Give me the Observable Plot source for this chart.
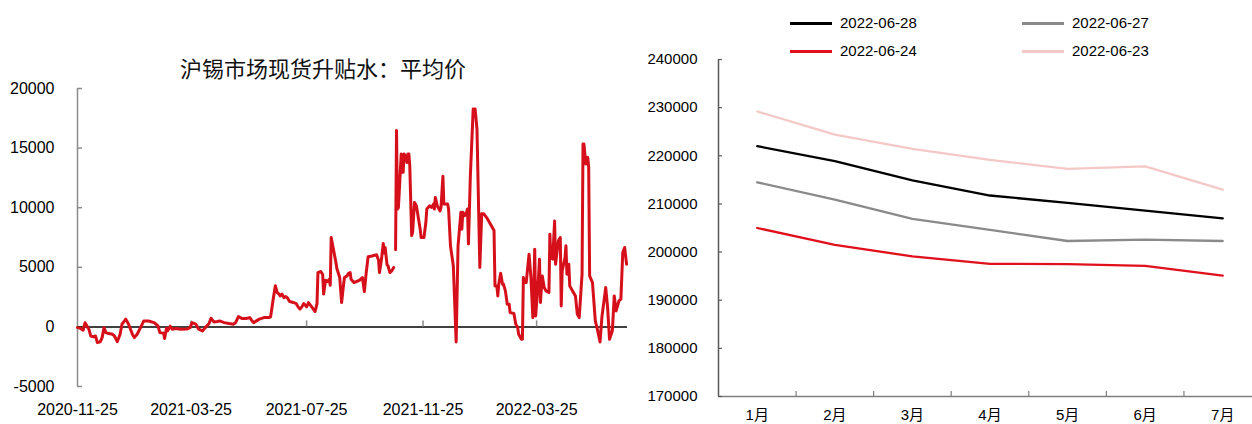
<!DOCTYPE html>
<html><head><meta charset="utf-8">
<script src="https://cdn.jsdelivr.net/npm/d3@7"></script>
<script src="https://cdn.jsdelivr.net/npm/@observablehq/plot@0.6"></script>
<style>
html,body{margin:0;padding:0;background:#fff;}
#wrap{position:relative;width:1252px;height:424px;overflow:hidden;display:flex;font-family:"Liberation Sans","Noto Sans CJK SC",sans-serif;color:#000;}
#left{position:relative;width:640px;height:424px;flex:none;}
#right{position:relative;width:612px;height:424px;flex:none;overflow:visible;}
#left svg,#right svg{position:absolute;left:0;top:0;max-width:none !important;}
.title{position:absolute;left:0;width:646px;top:56px;line-height:22px;text-align:center;font-size:22px;font-family:"Noto Sans CJK SC",sans-serif;color:#111;z-index:2;}
.lg{position:absolute;height:20px;line-height:20px;font-size:15px;white-space:nowrap;z-index:2;}
.sw{display:inline-block;width:42px;height:3px;vertical-align:middle;margin-right:8px;position:relative;top:-1px;}
</style>
</head><body>
<div id="wrap">
  <div id="left"><div class="title">沪锡市场现货升贴水：平均价</div></div>
  <div id="right"></div>
</div>
<script>
// ---------- Left chart data ----------
const leftTitle = "沪锡市场现货升贴水：平均价";
const dates = [
"2020-11-25","2020-11-28","2020-12-01","2020-12-03","2020-12-07","2020-12-09","2020-12-12","2020-12-14","2020-12-16","2020-12-19",
"2020-12-21","2020-12-23","2020-12-25","2020-12-28","2021-01-01","2021-01-03","2021-01-06","2021-01-09","2021-01-11","2021-01-15",
"2021-01-18","2021-01-22","2021-01-24","2021-01-27","2021-01-31","2021-02-03","2021-02-08","2021-02-14","2021-02-18","2021-02-20",
"2021-02-24","2021-02-25","2021-02-27","2021-02-28","2021-03-03","2021-03-05","2021-03-09","2021-03-14","2021-03-21","2021-03-24",
"2021-03-26","2021-03-30","2021-04-02","2021-04-06","2021-04-09","2021-04-13","2021-04-15","2021-04-18","2021-04-22","2021-04-24",
"2021-04-29","2021-05-04","2021-05-09","2021-05-11","2021-05-14","2021-05-18","2021-05-22","2021-05-26","2021-05-29","2021-05-30",
"2021-06-05","2021-06-10","2021-06-15","2021-06-17","2021-06-20","2021-06-22","2021-06-24","2021-06-26","2021-06-27","2021-06-29",
"2021-07-01","2021-07-03","2021-07-05","2021-07-07","2021-07-11","2021-07-14","2021-07-16","2021-07-18","2021-07-20","2021-07-22",
"2021-07-25","2021-07-27","2021-07-31","2021-08-03","2021-08-05","2021-08-06","2021-08-09","2021-08-11","2021-08-12","2021-08-14",
"2021-08-16","2021-08-18","2021-08-19","2021-08-20","2021-08-22","2021-08-25","2021-08-26","2021-08-29","2021-08-31","2021-09-02",
"2021-09-03","2021-09-06","2021-09-07","2021-09-09","2021-09-10","2021-09-13","2021-09-17","2021-09-19","2021-09-22","2021-09-24",
"2021-09-26","2021-09-28","2021-10-02","2021-10-07","2021-10-09","2021-10-10","2021-10-12","2021-10-14","2021-10-15","2021-10-16",
"2021-10-18","2021-10-19","2021-10-21","2021-10-23","2021-10-25","2021-10-26","2021-10-27","2021-10-28","2021-10-29","2021-10-30",
"2021-11-02","2021-11-03","2021-11-04","2021-11-05","2021-11-07","2021-11-08","2021-11-09","2021-11-10","2021-11-11","2021-11-13",
"2021-11-14","2021-11-16","2021-11-18","2021-11-20","2021-11-22","2021-11-23","2021-11-26","2021-11-28","2021-11-29","2021-12-02",
"2021-12-04","2021-12-06","2021-12-07","2021-12-08","2021-12-10","2021-12-13","2021-12-14","2021-12-16","2021-12-17","2021-12-21",
"2021-12-22","2021-12-24","2021-12-27","2021-12-30","2022-01-01","2022-01-04","2022-01-05","2022-01-06","2022-01-08","2022-01-10",
"2022-01-11","2022-01-12","2022-01-14","2022-01-17","2022-01-19","2022-01-21","2022-01-24","2022-01-26","2022-01-28","2022-02-01",
"2022-02-08","2022-02-09","2022-02-11","2022-02-12","2022-02-13","2022-02-15","2022-02-17","2022-02-18","2022-02-20","2022-02-22",
"2022-02-24","2022-02-25","2022-03-01","2022-03-03","2022-03-05","2022-03-06","2022-03-09","2022-03-10","2022-03-11","2022-03-12",
"2022-03-14","2022-03-17","2022-03-19","2022-03-21","2022-03-22","2022-03-23","2022-03-24","2022-03-26","2022-03-27","2022-03-28",
"2022-03-29","2022-03-31","2022-04-02","2022-04-04","2022-04-07","2022-04-08","2022-04-09","2022-04-11","2022-04-13","2022-04-14",
"2022-04-17","2022-04-19","2022-04-20","2022-04-21","2022-04-24","2022-04-25","2022-04-26","2022-04-28","2022-04-29","2022-05-02",
"2022-05-05","2022-05-07","2022-05-09","2022-05-12","2022-05-13","2022-05-14","2022-05-16","2022-05-18","2022-05-19","2022-05-20",
"2022-05-23","2022-05-26","2022-05-28","2022-05-31","2022-06-02","2022-06-06","2022-06-08","2022-06-10","2022-06-13","2022-06-15",
"2022-06-17","2022-06-20","2022-06-22","2022-06-24","2022-06-26","2022-06-28"
];
const values = [
-60,-110,-280,350,-190,-760,-840,-760,-1320,-1260,
-900,-60,-480,-560,-620,-760,-1240,-620,230,650,
230,-620,-900,-620,0,500,500,360,80,-480,
-530,-980,-110,-340,60,-190,-140,-190,-170,-60,
360,230,-190,-340,-60,280,730,420,450,500,
360,280,230,360,870,700,700,780,450,360,
650,780,780,850,2460,3450,2880,2750,2600,2750,
2460,2550,2410,2130,2050,1960,1680,1490,1680,1960,
1680,2040,1620,1290,1960,4560,4650,4400,2750,3920,
3800,4000,3500,7500,6660,5400,4900,4140,2040,3500,
4140,4300,4480,4560,4000,3720,3850,3920,4140,2970,
4560,5880,5950,6050,5600,4560,5600,7000,6200,6660,
5200,5130,4560,4700,4980,null,6470,16470,9890,10000,
14510,12970,12970,14510,14230,13800,14510,14510,13530,7650,
7930,10440,10160,9180,8200,7500,7500,8760,9890,10160,
10020,10300,9890,10860,10160,9730,10020,12630,10300,10300,
9890,6800,5130,-1260,6800,9610,8200,9610,9330,9610,
9890,6950,12690,18290,18290,16600,4980,9500,9500,9080,
8090,3440,3440,2600,3580,4500,3580,3580,3020,1900,
1900,1200,1120,220,-60,-620,-1040,-1040,4140,3720,
3720,6100,4140,780,3160,6520,920,3160,4140,5680,
2040,4280,3300,3020,2880,7780,5820,5680,8880,5260,
7220,7500,1760,4700,5820,6800,4420,5260,3440,3020,
2600,1060,780,4420,15340,15340,13660,14220,13380,4280,
3720,500,-140,-1260,840,3300,1620,-1040,-330,2600,
1340,2180,2320,6240,6660,5260
];
const leftXTickLabels = ["2020-11-25","2021-03-25","2021-07-25","2021-11-25","2022-03-25"];
const leftXDomain = ["2020-11-25","2022-06-29"];
const leftYTicks = [-5000, 0, 5000, 10000, 15000, 20000];

// ---------- Right chart data ----------
const months = ["1月","2月","3月","4月","5月","6月","7月"];
const seriesNames = ["2022-06-28","2022-06-27","2022-06-24","2022-06-23"];
const s0628 = [222000, 218900, 214900, 211750, 210200, 208600, 207000];
const s0627 = [214500, 210900, 206900, 204600, 202300, 202600, 202300];
const s0624 = [205000, 201500, 199100, 197550, 197500, 197150, 195100];
const s0623 = [229200, 224400, 221450, 219150, 217300, 217800, 212950];
const rightYTicks = [170000, 180000, 190000, 200000, 210000, 220000, 230000, 240000];

// ---------- build ----------
const parse = d3.utcParse("%Y-%m-%d");
const leftData = dates.map((d, i) => ({date: parse(d), value: values[i]}));
const xTicks = leftXTickLabels.map(parse);
const xDom = leftXDomain.map(parse);
const fmtDate = d3.utcFormat("%Y-%m-%d");

const left = Plot.plot({
  width: 640, height: 424,
  marginLeft: 77, marginRight: 13, marginTop: 88, marginBottom: 38,
  style: {fontFamily: "Liberation Sans, Noto Sans CJK SC, sans-serif", fontSize: "16px", color: "#000", background: "transparent", overflow: "visible"},
  x: {type: "utc", domain: xDom, label: null},
  y: {domain: [-5000, 20000], label: null},
  marks: [
    Plot.axisY({ticks: leftYTicks, tickSize: 0, tickPadding: 23, tickFormat: d => String(d), label: null, fontSize: 16}),
    Plot.axisX({ticks: xTicks, tickSize: 0, tickPadding: 17, tickFormat: fmtDate, label: null, fontSize: 16}),
    Plot.ruleX([xDom[0]], {stroke: "#8c8c8c", strokeWidth: 1.5}),
    Plot.ruleY(leftYTicks, {y: d => d, x1: () => xDom[0], x2: () => xDom[0], insetRight: -5, stroke: "#8c8c8c", strokeWidth: 1.5}),
    Plot.ruleY([0], {stroke: "#000", strokeWidth: 1.5}),
    Plot.ruleX(xTicks.slice(1), {x: d => d, y1: 0, y2: 0, insetTop: -6, stroke: "#8c8c8c", strokeWidth: 1.5}),
    Plot.line(leftData, {x: "date", y: "value", stroke: "#d6101b", strokeWidth: 3, strokeLinejoin: "round"})
  ]
});
document.getElementById("left").appendChild(left);

const seriesValues = [s0628, s0627, s0624, s0623];
const seriesColors = ["#000000", "#8a8a8a", "#e0101c", "#f5c8c8"];
const rightData = seriesNames.flatMap((name, k) => months.map((m, i) => ({series: name, month: i + 1, value: seriesValues[k][i]})));
const boundaries = months.map((m, i) => i + 1.5);
const drawOrder = ["2022-06-23", "2022-06-24", "2022-06-27", "2022-06-28"];

const right = Plot.plot({
  width: 621, height: 424,
  marginLeft: 78, marginRight: 0, marginTop: 59, marginBottom: 28,
  style: {fontFamily: "Liberation Sans, Noto Sans CJK SC, sans-serif", fontSize: "15px", color: "#000", background: "transparent", overflow: "visible"},
  x: {type: "linear", domain: [0.5, months.length + 0.5], label: null},
  y: {domain: [170000, 240000], label: null},
  color: {domain: seriesNames, range: seriesColors},
  marks: [
    Plot.axisY({ticks: rightYTicks, tickSize: 0, tickPadding: 21, tickFormat: d => String(d), label: null, fontSize: 15}),
    Plot.axisX({ticks: months.map((m, i) => i + 1), tickSize: 0, tickPadding: 13, tickFormat: d => months[d - 1], label: null, fontSize: 15}),
    Plot.ruleY([170000], {stroke: "#7f7f7f", strokeWidth: 1.5}),
    Plot.ruleX([0.5], {stroke: "#595959", strokeWidth: 1.5}),
    Plot.ruleY(rightYTicks, {y: d => d, x1: 0.5, x2: 0.5, insetRight: -4, stroke: "#595959", strokeWidth: 1.2}),
    Plot.ruleX(boundaries, {x: d => d, y1: 170000, y2: 170000, insetTop: -5, stroke: "#7f7f7f", strokeWidth: 1.2}),
    ...drawOrder.map(name => Plot.line(rightData.filter(d => d.series === name), {x: "month", y: "value", stroke: "series", strokeWidth: 2.3}))
  ]
});
document.getElementById("right").appendChild(right);

// legend (HTML, above the chart area)
const legendPos = [[150, 13], [382, 13], [150, 41], [382, 41]];
seriesNames.forEach((name, k) => {
  const el = document.createElement("div");
  el.className = "lg";
  el.style.left = legendPos[k][0] + "px";
  el.style.top = legendPos[k][1] + "px";
  const sw = document.createElement("span");
  sw.className = "sw";
  sw.style.background = seriesColors[k];
  el.appendChild(sw);
  el.appendChild(document.createTextNode(name));
  document.getElementById("right").appendChild(el);
});
</script>
</body></html>
